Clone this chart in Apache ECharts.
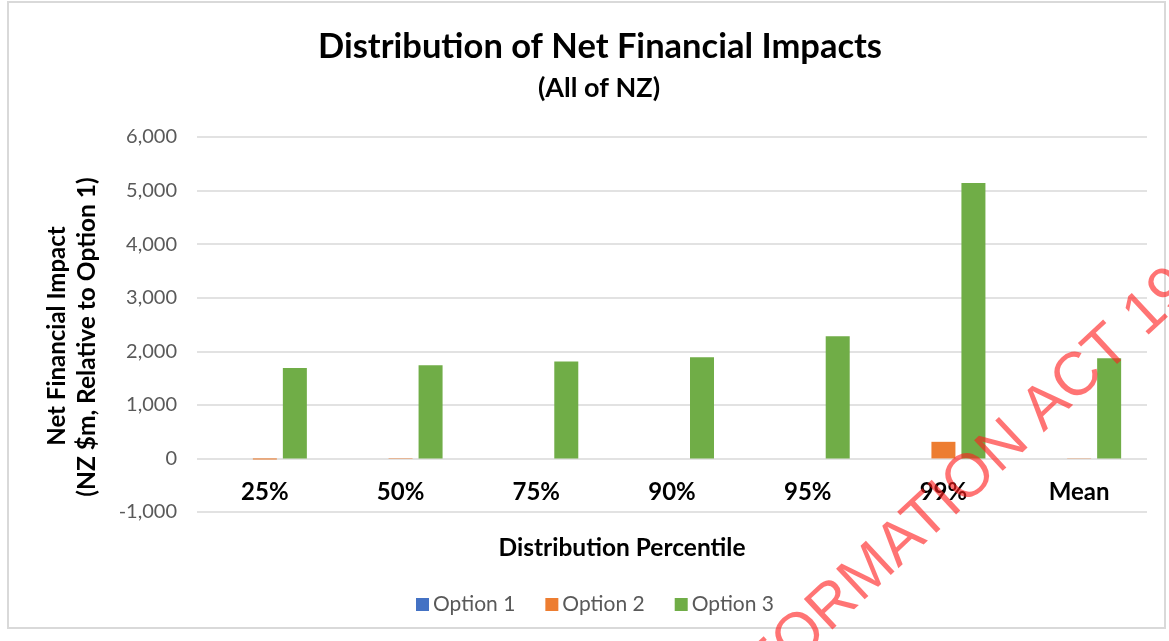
<!DOCTYPE html>
<html>
<head>
<meta charset="utf-8">
<script src="https://cdn.jsdelivr.net/npm/echarts@6/dist/echarts.min.js"></script>
<style>
  html, body { margin: 0; padding: 0; background: #ffffff; }
  #chart { width: 1169px; height: 641px; }
</style>
</head>
<body>
<div id="chart"></div>
<script>
// Percentile buckets along the x axis
const categories = ['25%', '50%', '75%', '90%', '95%', '99%', 'Mean'];

// Net financial impact, NZ $m relative to Option 1
const option1 = [0, 0, 0, 0, 0, 0, 0];
const option2 = [-20, -8, 0, 0, 0, 310, 5];
const option3 = [1690, 1740, 1810, 1890, 2280, 5140, 1870];

// Value axis range and step
const yMin = -1000;
const yMax = 6000;
const yStep = 1000;

const FONT = 'Lato, "Open Sans", sans-serif';

const chart = echarts.init(document.getElementById('chart'), null, { renderer: 'canvas' });

const barStyle = { barWidth: 24, barGap: '25%' };

chart.setOption({
  backgroundColor: '#ffffff',
  animation: false,
  textStyle: { fontFamily: FONT },
  color: ['#4472C4', '#ED7D31', '#70AD47'],
  legend: {
    top: 594,
    left: 416,
    padding: 0,
    itemWidth: 13,
    itemHeight: 13,
    itemGap: 30,
    icon: 'rect',
    textStyle: { fontFamily: FONT, fontSize: 21, color: '#595959', padding: [0, 0, 0, -1] },
    data: ['Option 1', 'Option 2', 'Option 3']
  },
  grid: { left: 197, right: 22, top: 137, bottom: 129, containLabel: false },
  xAxis: {
    type: 'category',
    data: categories,
    position: 'bottom',
    axisLine: { show: false, onZero: false },
    axisTick: { show: false },
    // labels sit in the band just under the zero line
    axisLabel: { margin: -32, fontFamily: FONT, fontSize: 24, fontWeight: 'bold', color: '#000000' }
  },
  yAxis: {
    type: 'value',
    min: yMin, max: yMax, interval: yStep,
    axisLine: { show: false },
    axisTick: { show: false },
    splitLine: { lineStyle: { color: '#d9d9d9', width: 1.5 } },
    axisLabel: {
      margin: 20, fontFamily: FONT, fontSize: 20, color: '#595959',
      formatter: v => v.toLocaleString('en-US')
    }
  },
  series: [
    Object.assign({ name: 'Option 1', type: 'bar', data: option1 }, barStyle),
    Object.assign({ name: 'Option 2', type: 'bar', data: option2 }, barStyle),
    Object.assign({ name: 'Option 3', type: 'bar', data: option3 }, barStyle)
  ],
  graphic: [
    {
      type: 'rect', silent: true, z: -10,
      shape: { x: 8, y: 2, width: 1157, height: 626 },
      style: { fill: '#ffffff', stroke: '#d9d9d9', lineWidth: 2 }
    },
    {
      type: 'text', silent: true, x: 600, y: 47,
      style: {
        text: 'Distribution of Net Financial Impacts',
        textAlign: 'center', textVerticalAlign: 'middle',
        font: 'bold 34.5px ' + FONT, fill: '#000000'
      }
    },
    {
      type: 'text', silent: true, x: 599, y: 88,
      style: {
        text: '(All of NZ)',
        textAlign: 'center', textVerticalAlign: 'middle',
        font: 'bold 27px ' + FONT, fill: '#000000'
      }
    },
    {
      type: 'text', silent: true, x: 622, y: 548,
      style: {
        text: 'Distribution Percentile',
        textAlign: 'center', textVerticalAlign: 'middle',
        font: 'bold 24.5px ' + FONT, fill: '#000000'
      }
    },
    {
      type: 'text', silent: true,
      x: 57, y: 336, rotation: Math.PI / 2,
      style: {
        text: 'Net Financial Impact', textAlign: 'center', textVerticalAlign: 'middle',
        font: 'bold 24px ' + FONT, fill: '#000000'
      }
    },
    {
      type: 'text', silent: true,
      x: 87, y: 337, rotation: Math.PI / 2,
      style: {
        text: '(NZ $m, Relative to Option 1)', textAlign: 'center', textVerticalAlign: 'middle',
        font: 'bold 24.5px ' + FONT, fill: '#000000'
      }
    },
    {
      // release stamp across the lower right
      type: 'text', silent: true, z: 100,
      x: 1233, y: 233, rotation: 43 * Math.PI / 180,
      style: {
        text: 'RELEASED UNDER THE OFFICIAL INFORMATION ACT 1982',
        textAlign: 'right', textVerticalAlign: 'middle',
        font: '61px "Liberation Sans", Arial, sans-serif',
        fill: 'rgba(255, 30, 30, 0.62)'
      }
    }
  ]
});
</script>
</body>
</html>
